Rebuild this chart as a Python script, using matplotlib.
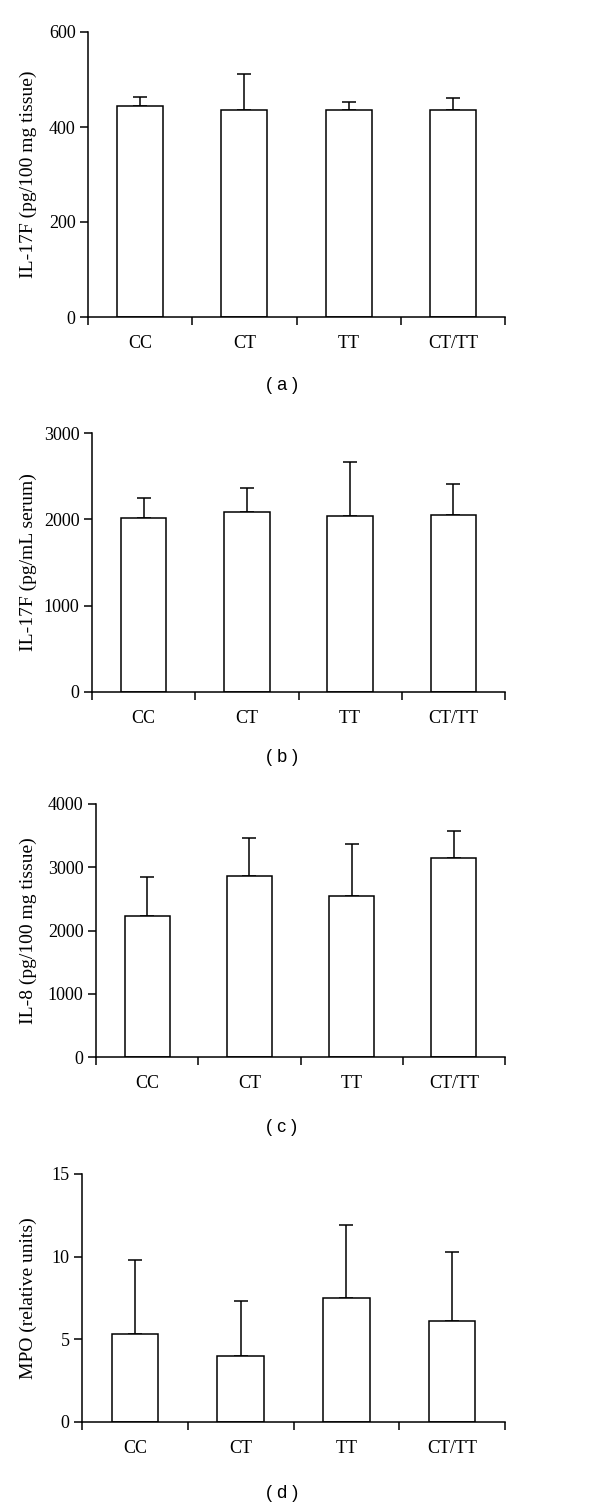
import matplotlib
matplotlib.use("Agg")
import matplotlib.pyplot as plt

# ============= data
categories = ["CC", "CT", "TT", "CT/TT"]

il17f_tissue_mean = [445, 436, 435, 435]
il17f_tissue_upper = [464, 512, 452, 461]

il17f_serum_mean = [2017, 2082, 2044, 2055]
il17f_serum_upper = [2252, 2360, 2668, 2410]

il8_mean = [2237, 2855, 2544, 3140]
il8_upper = [2839, 3456, 3372, 3573]

mpo_mean = [5.30, 3.99, 7.50, 6.11]
mpo_upper = [9.78, 7.30, 11.92, 10.30]

# ============= size handling
my_dpi = 100
W, H = 600, 1510
fig = plt.figure(figsize=(W / my_dpi, H / my_dpi), dpi=my_dpi)

serif = ["Liberation Serif", "DejaVu Serif"]
TICK_SIZE = 13
LABEL_SIZE = 14
LW = 1.1


def draw_panel(box, means, uppers, ymax, yticks, ylabel, letter, letter_y):
  left, top, right, bottom = box
  ax = fig.add_axes([left / W, 1 - bottom / H, (right - left) / W, (bottom - top) / H])
  x = list(range(len(categories)))
  errs = [u - m for m, u in zip(means, uppers)]
  ax.bar(x, means, width=0.44, color="white", edgecolor="black", linewidth=LW, zorder=2)
  ax.errorbar(x, means, yerr=[[0] * len(errs), errs], fmt="none", ecolor="black",
              elinewidth=LW, capsize=4.7, capthick=LW, zorder=1)
  ax.set_xlim(-0.5, len(categories) - 0.5)
  ax.set_ylim(0, ymax)
  ax.spines["top"].set_visible(False)
  ax.spines["right"].set_visible(False)
  ax.spines["left"].set_linewidth(LW)
  ax.spines["bottom"].set_linewidth(LW)
  ax.set_yticks(yticks)
  ax.set_yticklabels([str(t) for t in yticks], family=serif, fontsize=TICK_SIZE)
  # boundary ticks between groups, labels centred under bars
  ax.set_xticks([i - 0.5 for i in range(len(categories) + 1)])
  ax.set_xticklabels([])
  ax.set_xticks(x, minor=True)
  ax.set_xticklabels(categories, minor=True, family=serif, fontsize=TICK_SIZE)
  ax.tick_params(axis="both", which="major", direction="out", length=6, width=LW, pad=3)
  ax.tick_params(axis="x", which="minor", length=0, pad=13)
  fig.text(28 / W, 1 - (top + bottom) / 2 / H, ylabel, rotation=90, ha="center", va="center",
           family=serif, fontsize=LABEL_SIZE)
  fig.text(282 / W, 1 - letter_y / H, "( " + letter + " )", ha="center", va="center",
           family=["Liberation Sans", "DejaVu Sans"], fontsize=13)
  return ax


draw_panel((88, 32, 505, 317), il17f_tissue_mean, il17f_tissue_upper, 600, [0, 200, 400, 600],
           "IL-17F (pg/100 mg tissue)", "a", 386)
draw_panel((92, 433, 505, 692), il17f_serum_mean, il17f_serum_upper, 3000, [0, 1000, 2000, 3000],
           "IL-17F (pg/mL serum)", "b", 758)
draw_panel((96, 804, 505, 1057), il8_mean, il8_upper, 4000, [0, 1000, 2000, 3000, 4000],
           "IL-8 (pg/100 mg tissue)", "c", 1128)
draw_panel((82, 1174, 505, 1422), mpo_mean, mpo_upper, 15, [0, 5, 10, 15],
           "MPO (relative units)", "d", 1493)

plt.savefig("out.png", dpi=my_dpi, format="png")
